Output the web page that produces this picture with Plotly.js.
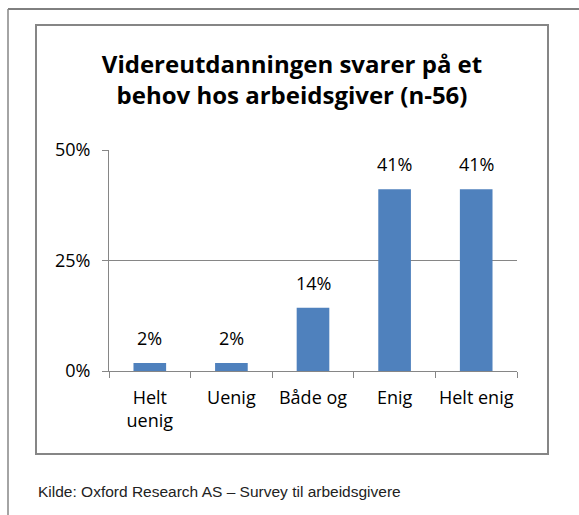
<!DOCTYPE html>
<html>
<head>
<meta charset="utf-8">
<script src="https://cdn.plot.ly/plotly-3.0.1.min.js"></script>
<style>
  html, body { margin: 0; padding: 0; background: #fff; }
  #chart { width: 579px; height: 515px; }
</style>
</head>
<body>
<div id="chart"></div>
<script>
// ---- data ----
const categories = ["Helt<br>uenig", "Uenig", "Både og", "Enig", "Helt enig"];
const values = [1.8, 1.8, 14.3, 41.1, 41.1];
const valueLabels = ["2%", "2%", "14%", "41%", "41%"];
const yTicks = [0, 25, 50];
const titleText = "Videreutdanningen svarer på et<br>behov hos arbeidsgiver (n-56)";
const sourceText = "Kilde: Oxford Research AS – Survey til arbeidsgivere";

// ---- layout geometry (pixels) ----
const W = 579, H = 515;
const PL = 109, PR = 517, PT = 150, PB = 371;
const pw = PR - PL, ph = PB - PT;
const xp = px => (px - PL) / pw;
const yp = py => (PB - py) / ph;

const gray = "#868686";
const fontMain = "'Open Sans', 'Noto Sans', sans-serif";

const trace = {
  type: "bar",
  x: categories,
  y: values,
  marker: { color: "#4F81BD" },
  hoverinfo: "skip"
};

const labelAnnotations = categories.map((c, i) => ({
  x: c, y: values[i], xref: "x", yref: "y",
  text: valueLabels[i], showarrow: false,
  yanchor: "bottom", yshift: 11,
  font: { family: fontMain, size: 18, color: "#000" }
}));

const layout = {
  width: W, height: H,
  margin: { l: PL, r: W - PR, t: PT, b: H - PB },
  paper_bgcolor: "#fff", plot_bgcolor: "#fff",
  showlegend: false,
  bargap: 0.6,
  title: {
    text: titleText,
    font: { family: fontMain, size: 24, color: "#000", weight: "bold" },
    xref: "container", x: 292 / W, xanchor: "center",
    yref: "container", y: 1 - 73 / H, yanchor: "top"
  },
  xaxis: {
    type: "category",
    showline: true, linecolor: gray, linewidth: 1,
    ticks: "outside", tickson: "boundaries", ticklen: 6, tickcolor: gray, tickwidth: 1,
    showgrid: false,
    tickangle: 0,
    tickfont: { family: fontMain, size: 18, color: "#000" },
    ticklabelstandoff: 10,
    fixedrange: true
  },
  yaxis: {
    range: [0, 50],
    tickvals: yTicks,
    ticktext: yTicks.map(v => v + "%"),
    showline: true, linecolor: gray, linewidth: 1,
    ticks: "outside", ticklen: 6, tickcolor: gray, tickwidth: 1,
    showgrid: true, gridcolor: gray, gridwidth: 1,
    zeroline: false,
    tickfont: { family: fontMain, size: 18, color: "#000" },
    ticklabelstandoff: 8,
    fixedrange: true
  },
  shapes: [
    { type: "line", xref: "paper", yref: "paper", x0: xp(8), x1: xp(579), y0: yp(9), y1: yp(9),
      line: { color: "#000", width: 1 } },
    { type: "line", xref: "paper", yref: "paper", x0: xp(8), x1: xp(8), y0: yp(9), y1: yp(515),
      line: { color: gray, width: 1.5 } },
    { type: "rect", xref: "paper", yref: "paper", x0: xp(36), x1: xp(548), y0: yp(25), y1: yp(454),
      line: { color: gray, width: 2 }, fillcolor: "rgba(0,0,0,0)" }
  ],
  annotations: labelAnnotations.concat([{
    xref: "paper", yref: "paper", x: xp(36), y: yp(502),
    xanchor: "left", yanchor: "bottom", showarrow: false,
    text: sourceText,
    font: { family: "'Liberation Sans', Arial, sans-serif", size: 15.5, color: "#222" }
  }])
};

Plotly.newPlot("chart", [trace], layout, { staticPlot: true, displayModeBar: false });
</script>
</body>
</html>
